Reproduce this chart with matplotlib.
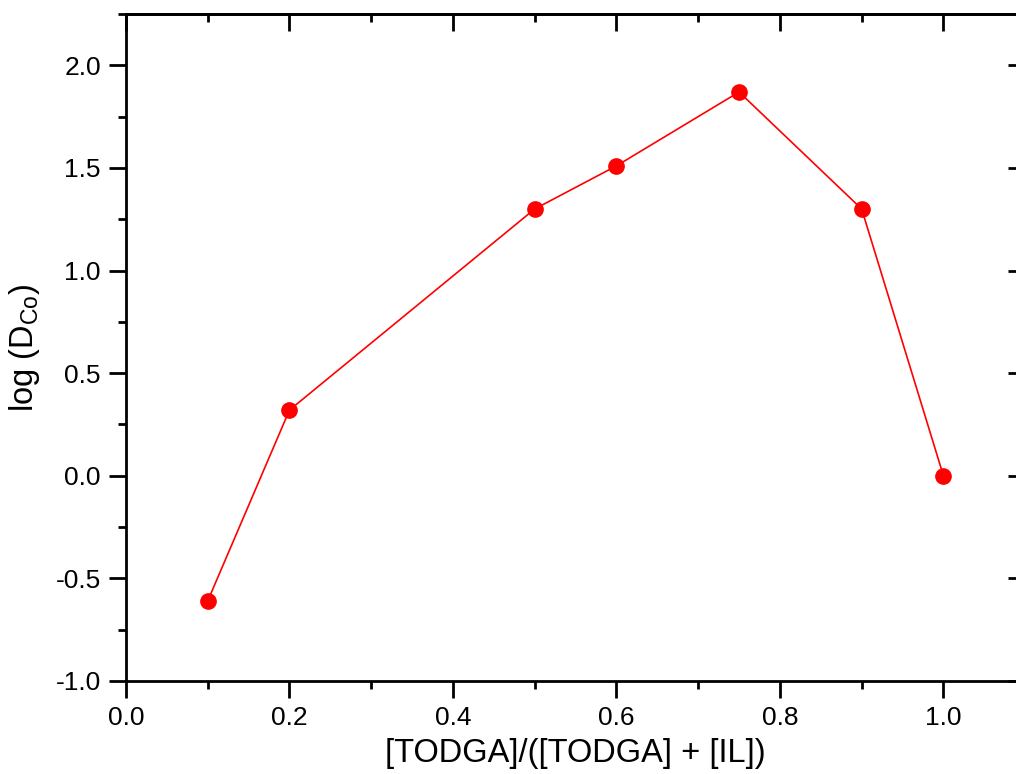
import numpy as np
import matplotlib
matplotlib.use("Agg")
import matplotlib.pyplot as plt
from matplotlib.ticker import MultipleLocator

plt.rcParams['font.family'] = ['Liberation Sans', 'DejaVu Sans']
plt.rcParams['mathtext.fontset'] = 'custom'
plt.rcParams['mathtext.rm'] = 'Liberation Sans'
plt.rcParams['mathtext.it'] = 'Liberation Sans'

# data
ratio = [0.1, 0.2, 0.5, 0.6, 0.75, 0.9, 1.0]
log_d_co = [-0.61, 0.32, 1.30, 1.51, 1.87, 1.30, 0.0]

fig = plt.figure(figsize=(10.16, 7.74), dpi=100)
ax = fig.add_axes([0.124, 0.1202, 0.885, 0.8617])

ax.plot(ratio, log_d_co, color='#ff0000', lw=1.2, marker='o', ms=11,
        markerfacecolor='#ff0000', markeredgecolor='#ff0000')

ax.set_xlim(0, 1.1)
ax.set_ylim(-1.0, 2.25)
ax.xaxis.set_major_locator(MultipleLocator(0.2))
ax.xaxis.set_minor_locator(MultipleLocator(0.1))
ax.yaxis.set_major_locator(MultipleLocator(0.5))
ax.yaxis.set_minor_locator(MultipleLocator(0.25))
ax.xaxis.set_major_formatter(plt.FormatStrFormatter('%.1f'))
ax.yaxis.set_major_formatter(plt.FormatStrFormatter('%.1f'))

for s in ax.spines.values():
    s.set_linewidth(2)

# outer ticks on left/bottom, inner ticks on top/right
ax.tick_params(which='major', length=12, width=2, labelsize=19, pad=6)
ax.tick_params(which='minor', length=6, width=2)
ax.tick_params(which='both', direction='out', top=False, right=False)
sec_x = ax.secondary_xaxis('top')
sec_x.xaxis.set_major_locator(MultipleLocator(0.2))
sec_x.xaxis.set_minor_locator(MultipleLocator(0.1))
sec_x.tick_params(which='major', direction='in', length=12, width=2, labeltop=False)
sec_x.tick_params(which='minor', direction='in', length=6, width=2)
sec_x.spines['top'].set_linewidth(2)
sec_y = ax.secondary_yaxis('right')
sec_y.yaxis.set_major_locator(MultipleLocator(0.5))
sec_y.yaxis.set_minor_locator(MultipleLocator(0.25))
sec_y.tick_params(which='major', direction='in', length=12, width=2, labelright=False)
sec_y.tick_params(which='minor', direction='in', length=6, width=2)

ax.set_xlabel('[TODGA]/([TODGA] + [IL])', fontsize=23.5, labelpad=6)
ax.set_ylabel(r'log (D$_{\mathregular{Co}}$)', fontsize=23.5, labelpad=10)

fig.savefig('out.png', dpi=100)
